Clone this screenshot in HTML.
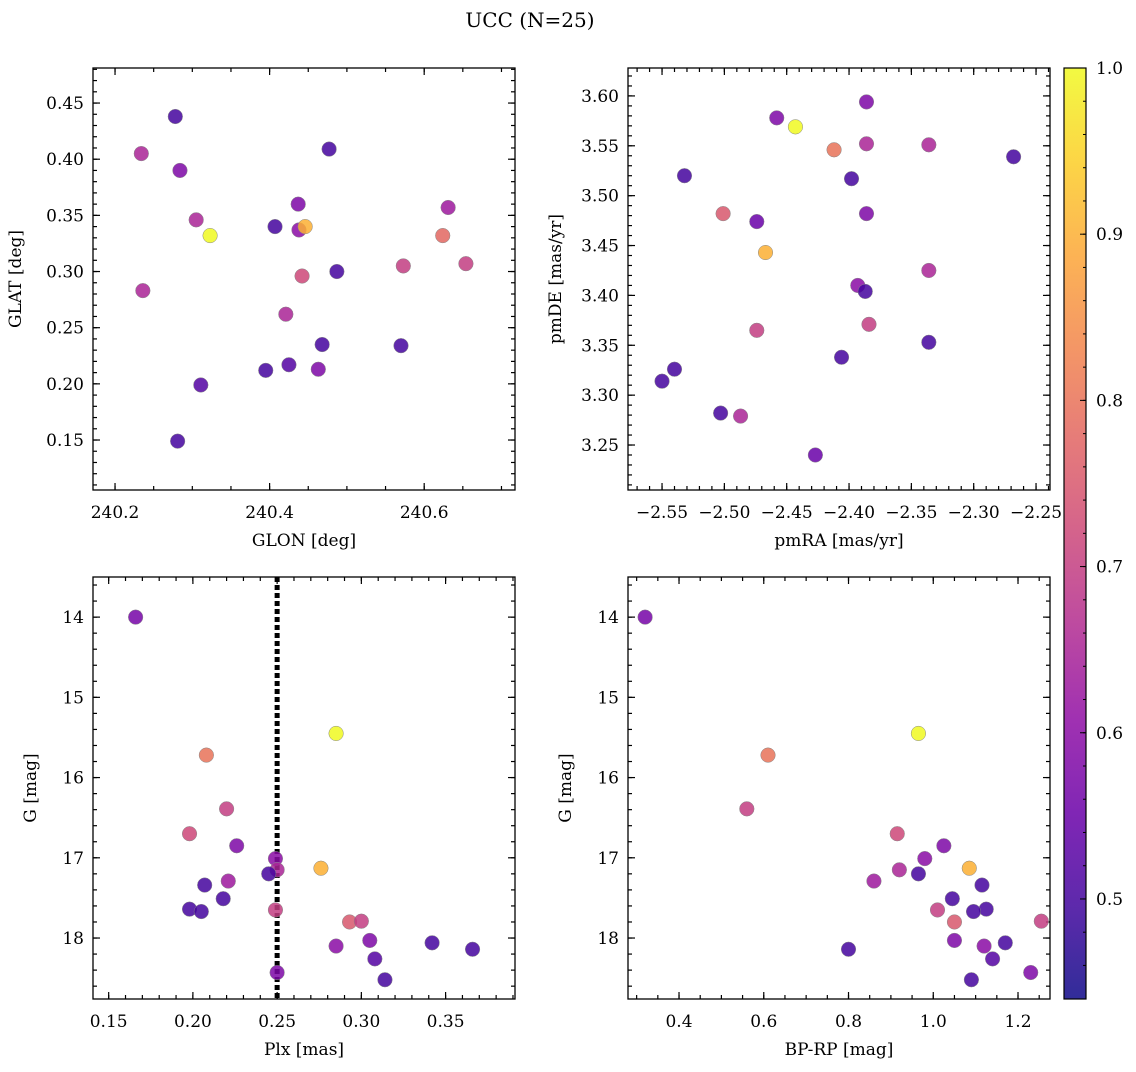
<!DOCTYPE html>
<html><head><meta charset="utf-8"><style>
body{margin:0;background:#fff}
svg text{font-family:"DejaVu Serif","Liberation Serif",serif;fill:#000}
</style></head><body>
<svg id="fig" width="1136" height="1067" viewBox="0 0 1136 1067" xmlns="http://www.w3.org/2000/svg">
<defs><linearGradient id="cbg" x1="0" y1="1" x2="0" y2="0"></linearGradient></defs>
<text x="530" y="27" font-size="20" text-anchor="middle" font-family="DejaVu Serif, serif">UCC (N=25)</text>
</svg>
<script>
const tlGlon=[240.278,240.234,240.284,240.477,240.305,240.323,240.407,240.437,240.438,240.446,240.442,240.631,240.624,240.654,240.573,240.487,240.236,240.421,240.468,240.570,240.395,240.425,240.463,240.311,240.281];
const tlGlat=[0.438,0.405,0.390,0.409,0.346,0.332,0.340,0.360,0.337,0.340,0.296,0.357,0.332,0.307,0.305,0.300,0.283,0.262,0.235,0.234,0.212,0.217,0.213,0.199,0.149];
const tlC=[0.5,0.65,0.58,0.5,0.65,1.0,0.5,0.58,0.6,0.9,0.72,0.63,0.78,0.7,0.7,0.5,0.65,0.65,0.5,0.5,0.5,0.52,0.58,0.52,0.5];
const trPmra=[-2.458,-2.443,-2.386,-2.412,-2.386,-2.336,-2.268,-2.532,-2.398,-2.501,-2.474,-2.386,-2.467,-2.336,-2.393,-2.387,-2.474,-2.384,-2.336,-2.406,-2.540,-2.550,-2.503,-2.487,-2.427];
const trPmde=[3.578,3.569,3.594,3.546,3.552,3.551,3.539,3.520,3.517,3.482,3.474,3.482,3.443,3.425,3.410,3.404,3.365,3.371,3.353,3.338,3.326,3.314,3.282,3.279,3.240];
const trC=[0.58,1.0,0.58,0.8,0.65,0.65,0.5,0.5,0.5,0.75,0.55,0.58,0.9,0.65,0.6,0.5,0.7,0.7,0.5,0.5,0.5,0.5,0.5,0.65,0.55];
const blPlx=[0.166,0.208,0.285,0.220,0.198,0.226,0.249,0.276,0.250,0.245,0.221,0.207,0.218,0.198,0.205,0.249,0.293,0.300,0.305,0.285,0.342,0.366,0.308,0.314,0.250];
const gMag=[14.0,15.72,15.45,16.39,16.70,16.85,17.01,17.13,17.15,17.20,17.29,17.34,17.51,17.64,17.67,17.65,17.80,17.79,18.03,18.10,18.06,18.14,18.26,18.52,18.43];
const gC=[0.57,0.8,1.0,0.7,0.72,0.58,0.6,0.9,0.65,0.5,0.63,0.5,0.5,0.5,0.5,0.7,0.75,0.7,0.58,0.6,0.5,0.5,0.52,0.5,0.58];
const brBprp=[0.32,0.61,0.965,0.56,0.915,1.025,0.98,1.085,0.92,0.965,0.86,1.115,1.045,1.125,1.095,1.01,1.05,1.255,1.05,1.12,1.17,0.80,1.14,1.09,1.23];
const plxCut=[0.25];
const cbTicks=[0.5,0.6,0.7,0.8,0.9,1.0];

const NS="http://www.w3.org/2000/svg";
const svg=document.getElementById('fig');
const FF='DejaVu Serif, Liberation Serif, serif';
function mk(t,a,p){const e=document.createElementNS(NS,t);for(const k in a)e.setAttribute(k,a[k]);(p||svg).appendChild(e);return e;}
const stops=[[0,'#0d0887'],[0.1,'#41049d'],[0.2,'#6a00a8'],[0.3,'#8f0da4'],[0.4,'#b12a90'],[0.5,'#cc4778'],[0.6,'#e16462'],[0.7,'#f2844b'],[0.8,'#fca636'],[0.9,'#fcce25'],[1,'#f0f921']];
const cmin=0.4398,cmax=1.0;
function hx(h){return [1,3,5].map(i=>parseInt(h.substr(i,2),16));}
function plasma(t){t=Math.max(0,Math.min(1,t));for(let i=0;i<stops.length-1;i++){if(t<=stops[i+1][0]){const f=(t-stops[i][0])/(stops[i+1][0]-stops[i][0]);const a=hx(stops[i][1]),b=hx(stops[i+1][1]);return 'rgb('+a.map((v,j)=>Math.round(v+(b[j]-v)*f)).join(',')+')';}}return stops[10][1];}
function cmap(v){return plasma((v-cmin)/(cmax-cmin));}
function fmt(v,d){let s=v.toFixed(d);return s.replace('-','\u2212');}

function panel(o){
  const g=mk('g',{});
  
  
  const sx=v=>o.x0+(v-o.xr[0])/(o.xr[1]-o.xr[0])*(o.x1-o.x0);
  const sy=o.yinv?(v=>o.y0+(v-o.yr[0])/(o.yr[1]-o.yr[0])*(o.y1-o.y0)):(v=>o.y1-(v-o.yr[0])/(o.yr[1]-o.yr[0])*(o.y1-o.y0));
  const tg=mk('g',{stroke:'#000','stroke-width':1.2},g);
  function ticks(axis,step,len,labels,dec){
    const r=axis=='x'?o.xr:o.yr;
    const n0=Math.ceil(Math.min(r[0],r[1])/step-1e-6),n1=Math.floor(Math.max(r[0],r[1])/step+1e-6);
    for(let n=n0;n<=n1;n++){const v=n*step;
      if(axis=='x'){const x=sx(v);mk('line',{x1:x,x2:x,y1:o.y1,y2:o.y1-len},tg);mk('line',{x1:x,x2:x,y1:o.y0,y2:o.y0+len},tg);
        if(labels){const t=mk('text',{x:x,y:o.y1+28,'font-size':17,'font-family':FF,'text-anchor':'middle',stroke:'none'},g);t.textContent=fmt(v,dec);}}
      else{const y=sy(v);mk('line',{x1:o.x0,x2:o.x0+len,y1:y,y2:y},tg);mk('line',{x1:o.x1,x2:o.x1-len,y1:y,y2:y},tg);
        if(labels){const t=mk('text',{x:o.x0-9,y:y+6,'font-size':17,'font-family':FF,'text-anchor':'end',stroke:'none'},g);t.textContent=fmt(v,dec);}}
    }
  }
  ticks('x',o.xmaj,7,true,o.xd);ticks('x',o.xmin,4,false);
  ticks('y',o.ymaj,7,true,o.yd);ticks('y',o.ymin,4,false);
  if(o.vline){o.vline.forEach(v=>{const l=mk('line',{x1:sx(v),x2:sx(v),y1:o.y0,y2:o.y1,stroke:'#000','stroke-width':5,'stroke-dasharray':'5,3'},g);});}
  for(let i=0;i<o.xs.length;i++){
    const c=mk('circle',{cx:sx(o.xs[i]),cy:sy(o.ys[i]),r:7.3,fill:cmap(o.cs[i]),'fill-opacity':0.85,stroke:'#888','stroke-width':0.5},g);
    
    
  }
  mk('rect',{x:o.x0,y:o.y0,width:o.x1-o.x0,height:o.y1-o.y0,fill:'none',stroke:'#000','stroke-width':1.3},g);
  const xl=mk('text',{x:(o.x0+o.x1)/2,y:o.y1+56,'font-size':17,'font-family':FF,'text-anchor':'middle'},g);xl.textContent=o.xlab;
  
  const cy=(o.y0+o.y1)/2,cx=o.x0-o.ylo;
  const yl=mk('text',{x:cx,y:cy,'font-size':17,'font-family':FF,'text-anchor':'middle',transform:`rotate(-90 ${cx} ${cy})`},g);yl.textContent=o.ylab;
  
}
panel({name:'glon-glat-panel',x0:93,x1:515,y0:68,y1:490,xr:[240.1715,240.7175],yr:[0.1055,0.4812],xmaj:0.2,xmin:0.05,xd:1,ymaj:0.05,ymin:0.01,yd:2,xs:tlGlon,ys:tlGlat,cs:tlC,xlab:'GLON [deg]',ylab:'GLAT [deg]',ylo:72});
panel({name:'pm-panel',x0:628,x1:1050,y0:68,y1:490,xr:[-2.5773,-2.2388],yr:[3.2049,3.628],xmaj:0.05,xmin:0.01,xd:2,ymaj:0.05,ymin:0.01,yd:2,xs:trPmra,ys:trPmde,cs:trC,xlab:'pmRA [mas/yr]',ylab:'pmDE [mas/yr]',ylo:67});
panel({name:'plx-g-panel',x0:93,x1:515,y0:577,y1:999,xr:[0.1407,0.3912],yr:[13.50,18.76],yinv:true,xmaj:0.05,xmin:0.01,xd:2,ymaj:1,ymin:0.2,yd:0,xs:blPlx,ys:gMag,cs:gC,xlab:'Plx [mas]',ylab:'G [mag]',ylo:57,vline:plxCut});
panel({name:'cmd-panel',x0:628,x1:1050,y0:577,y1:999,xr:[0.2796,1.2755],yr:[13.50,18.76],yinv:true,xmaj:0.2,xmin:0.05,xd:1,ymaj:1,ymin:0.2,yd:0,xs:brBprp,ys:gMag,cs:gC,xlab:'BP-RP [mag]',ylab:'G [mag]',ylo:57});
const grad=document.getElementById('cbg');
for(let i=0;i<=20;i++){mk('stop',{offset:i/20,'stop-color':plasma(i/20)},grad);}
const cb=mk('g',{});


const cx0=1064,cx1=1086,cy0=68,cy1=999;
mk('rect',{x:cx0,y:cy0,width:cx1-cx0,height:cy1-cy0,fill:'url(#cbg)','fill-opacity':0.85,stroke:'#000','stroke-width':1.2},cb);
const csy=v=>cy1-(v-cmin)/(cmax-cmin)*(cy1-cy0);
cbTicks.forEach(v=>{const y=csy(v);mk('line',{x1:cx1,x2:cx1-6,y1:y,y2:y,stroke:'#000'},cb);
  const t=mk('text',{x:cx1+10,y:y+6,'font-size':17,'font-family':FF},cb);t.textContent=v.toFixed(1);
  });
for(let n=23;n<=50;n++){const v=n*0.02;if(v<cmin||v>cmax+1e-6)continue;const y=csy(v);mk('line',{x1:cx1,x2:cx1-3,y1:y,y2:y,stroke:'#000'},cb);}
</script>
</body></html>
